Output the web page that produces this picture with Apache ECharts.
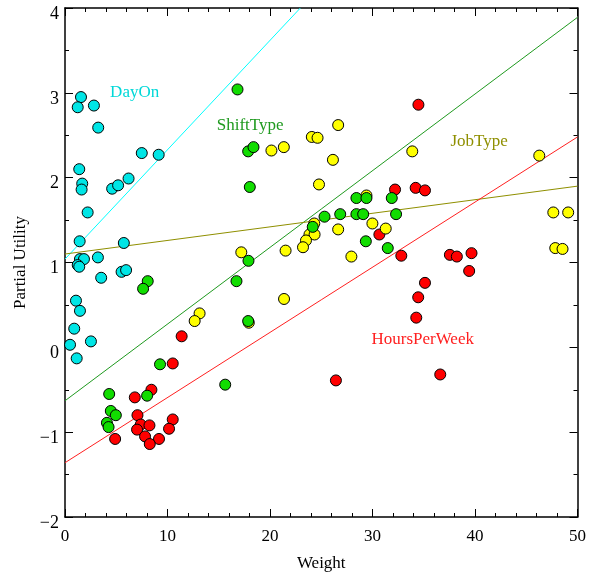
<!DOCTYPE html>
<html>
<head>
<meta charset="utf-8">
<script src="https://cdn.jsdelivr.net/npm/echarts@6/dist/echarts.min.js"></script>
<style>
  html, body { margin: 0; padding: 0; background: #fff; }
  #chart { width: 589px; height: 577px; }
</style>
</head>
<body>
<div id="chart"></div>
<script>
// points: [weight, partial utility]
const dayOn = [
  [1.56, 2.95], [1.24, 2.83], [2.82, 2.85], [3.24, 2.59], [1.39, 2.10], [1.68, 1.93],
  [1.62, 1.86], [4.60, 1.87], [5.18, 1.91], [6.20, 1.99], [7.49, 2.29], [9.14, 2.27],
  [2.21, 1.59], [1.43, 1.25], [5.74, 1.23], [1.46, 1.04], [1.85, 1.04], [3.21, 1.06],
  [1.24, 0.97], [1.39, 0.95], [3.53, 0.82], [5.52, 0.89], [5.96, 0.91], [1.07, 0.55],
  [1.46, 0.43], [0.90, 0.22], [0.49, 0.03], [2.53, 0.07], [1.14, -0.13]
];
const shiftType = [
  [16.83, 3.04], [17.87, 2.31], [18.39, 2.36], [18.03, 1.89], [17.90, 1.02],
  [25.32, 1.54], [26.85, 1.57], [24.17, 1.42], [28.43, 1.76], [29.41, 1.76],
  [31.88, 1.76], [28.43, 1.57], [29.09, 1.57], [32.30, 1.57], [29.35, 1.25],
  [31.49, 1.17], [16.73, 0.78], [8.07, 0.78], [7.62, 0.69], [9.27, -0.20],
  [8.01, -0.57], [4.31, -0.55], [4.47, -0.75], [4.96, -0.80], [4.09, -0.89],
  [4.25, -0.94], [15.63, -0.44], [17.87, 0.31]
];
const jobType = [
  [26.65, 2.62], [24.08, 2.48], [24.64, 2.47], [20.14, 2.32], [21.35, 2.36],
  [26.14, 2.21], [24.78, 1.92], [33.88, 2.31], [29.41, 1.79], [24.32, 1.46],
  [23.85, 1.33], [24.35, 1.33], [23.51, 1.26], [23.22, 1.18], [26.65, 1.39],
  [29.99, 1.46], [31.29, 1.40], [27.94, 1.07], [21.52, 1.14], [17.20, 1.12],
  [21.37, 0.57], [13.13, 0.40], [12.65, 0.31], [17.93, 0.29], [46.27, 2.26],
  [47.64, 1.59], [49.09, 1.59], [47.83, 1.17], [48.54, 1.16]
];
const hoursPerWeek = [
  [34.48, 2.86], [32.20, 1.86], [34.21, 1.88], [35.12, 1.85], [30.67, 1.33],
  [32.81, 1.08], [37.55, 1.09], [38.23, 1.07], [39.66, 1.11], [39.43, 0.90],
  [35.12, 0.76], [34.46, 0.59], [34.27, 0.35], [36.61, -0.32], [26.43, -0.39],
  [11.38, 0.13], [10.51, -0.19], [8.43, -0.50], [6.81, -0.59], [7.07, -0.80],
  [7.39, -0.91], [8.24, -0.92], [10.51, -0.85], [10.15, -0.96], [7.03, -0.97],
  [7.81, -1.05], [9.17, -1.08], [8.27, -1.14], [4.89, -1.08]
];

// fitted lines: [start, end]
const dayOnLine = [[0, 1.04], [22.96, 4]];
const shiftTypeLine = [[0, -0.63], [50, 3.89]];
const jobTypeLine = [[0, 1.10], [50, 1.90]];
const hoursLine = [[0, -1.36], [50, 2.48]];

// where each group's name sits (data coordinates)
const labelSpots = {
  DayOn: [4.4, 3.0],
  ShiftType: [14.8, 2.62],
  JobType: [37.6, 2.43],
  HoursPerWeek: [29.9, 0.09]
};

const font = 'Liberation Serif';

const chart = echarts.init(document.getElementById('chart'));

const fixMinus = v => String(v).replace('-', '\u2212');

function axisCommon(min, max, interval, minorSplit) {
  return {
    min, max, interval,
    axisLine: { show: true, onZero: false, lineStyle: { color: '#000', width: 1.5 } },
    axisTick: { show: true, inside: true, length: 8, lineStyle: { color: '#000' } },
    minorTick: { show: true, splitNumber: minorSplit, length: 4, lineStyle: { color: '#000' } },
    splitLine: { show: false },
    minorSplitLine: { show: false }
  };
}

function lineSeries(name, data, color) {
  return {
    name, type: 'line', data, z: 1,
    symbol: 'none', silent: true, clip: true,
    lineStyle: { color, width: 1 },
    markPoint: {
      symbol: 'circle', symbolSize: 0,
      data: [{ coord: labelSpots[name], value: name }],
      label: {
        show: true, position: 'right', distance: 0, formatter: name,
        fontFamily: font, fontSize: 17, color: color === '#00ffff' ? '#00d8d8' : color
      }
    }
  };
}

function dots(data, color) {
  return {
    type: 'scatter', data, z: 3,
    symbolSize: 11,
    itemStyle: { color, borderColor: '#000', borderWidth: 1, opacity: 1 }
  };
}

const x = axisCommon(0, 50, 10, 5);
const y = axisCommon(-2, 4, 1, 2);

chart.setOption({
  animation: false,
  backgroundColor: '#fff',
  grid: { left: 65, right: 10, top: 8, bottom: 53, containLabel: false },
  xAxis: [
    Object.assign({}, x, {
      type: 'value', position: 'bottom',
      name: 'Weight', nameLocation: 'middle', nameGap: 38,
      nameTextStyle: { fontFamily: font, fontSize: 17, color: '#000' },
      axisLabel: { fontFamily: font, fontSize: 17, color: '#000', margin: 11, formatter: fixMinus }
    }),
    Object.assign({}, x, { type: 'value', position: 'top', axisLabel: { show: false } })
  ],
  yAxis: [
    Object.assign({}, y, {
      type: 'value', position: 'left',
      name: 'Partial Utility', nameLocation: 'middle', nameGap: 36,
      nameTextStyle: { fontFamily: font, fontSize: 17, color: '#000' },
      axisLabel: {
        fontFamily: font, fontSize: 18, color: '#000', margin: 6,
        verticalAlign: 'top', lineHeight: 12,
        formatter: fixMinus
      }
    }),
    Object.assign({}, y, { type: 'value', position: 'right', axisLabel: { show: false } })
  ],
  series: [
    lineSeries('DayOn', dayOnLine, '#00ffff'),
    lineSeries('ShiftType', shiftTypeLine, '#1f9a1f'),
    lineSeries('JobType', jobTypeLine, '#8f8f00'),
    lineSeries('HoursPerWeek', hoursLine, '#ff2020'),
    dots(hoursPerWeek, '#ff0000'),
    dots(jobType, '#ffff00'),
    dots(shiftType, '#11dd00'),
    dots(dayOn, '#00e5e5')
  ]
});
</script>
</body>
</html>
